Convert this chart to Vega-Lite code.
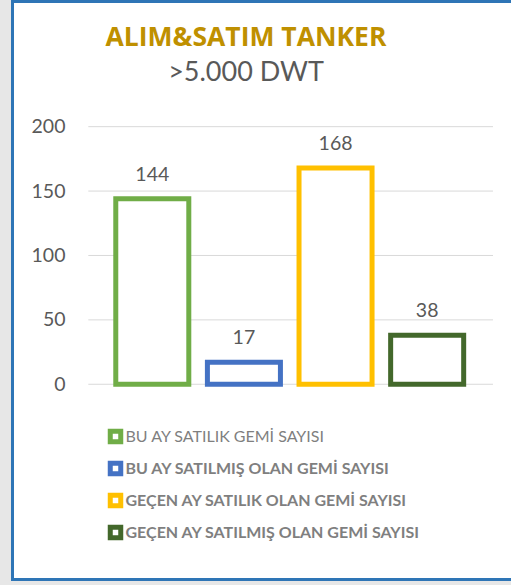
{
  "$schema": "https://vega.github.io/schema/vega-lite/v6.json",
  "autosize": {"type": "none"},
  "width": 500,
  "height": 578,
  "padding": {"left": 12.5, "top": 1.5, "right": -1.5, "bottom": 5.5},
  "background": "#e7e7e7",
  "config": {
    "view": {"stroke": "#2e75b6", "strokeWidth": 3, "fill": "white"},
    "font": "Lato"
  },
  "title": {
    "text": "ALIM&SATIM TANKER",
    "subtitle": ">5.000 DWT",
    "anchor": "middle",
    "frame": "group",
    "offset": -84.5,
    "dx": -16.5,
    "font": "Open Sans",
    "fontSize": 26.5,
    "fontWeight": "bold",
    "color": "#bf9000",
    "subtitleFont": "Lato",
    "subtitleFontSize": 27,
    "subtitleColor": "#595959",
    "subtitlePadding": 8.5
  },
  "datasets": {
    "ships": [
      {"cat": "BU AY SATILIK GEMİ SAYISI", "value": 144},
      {"cat": "BU AY SATILMIŞ OLAN GEMİ SAYISI", "value": 17},
      {"cat": "GEÇEN AY SATILIK OLAN GEMİ SAYISI", "value": 168},
      {"cat": "GEÇEN AY SATILMIŞ OLAN GEMİ SAYISI", "value": 38}
    ],
    "grid": [{"v": 0}, {"v": 50}, {"v": 100}, {"v": 150}, {"v": 200}]
  },
  "resolve": {"scale": {"x": "independent"}},
  "layer": [
    {
      "data": {"name": "grid"},
      "mark": {"type": "rule", "color": "#d9d9d9", "strokeWidth": 1},
      "encoding": {
        "y": {"field": "v", "type": "quantitative"},
        "x": {"datum": 0, "type": "quantitative", "axis": null, "scale": {"domain": [-0.1873, 1.0482], "nice": false, "zero": false}},
        "x2": {"datum": 1}
      }
    },
    {
      "layer": [
        {
          "mark": {"type": "bar", "fill": "white", "strokeWidth": 5},
          "encoding": {
            "stroke": {
              "field": "cat", "type": "nominal",
              "scale": {
                "domain": ["BU AY SATILIK GEMİ SAYISI", "BU AY SATILMIŞ OLAN GEMİ SAYISI", "GEÇEN AY SATILIK OLAN GEMİ SAYISI", "GEÇEN AY SATILMIŞ OLAN GEMİ SAYISI"],
                "range": ["#70ad47", "#4472c4", "#ffc000", "#43682b"]
              },
              "legend": {
                "orient": "none", "legendX": 95, "legendY": 427, "title": null, "direction": "vertical",
                "symbolType": "square", "symbolSize": 110, "symbolStrokeWidth": 5, "symbolFillColor": "white",
                "labelFont": "Lato", "labelFontSize": 16, "labelColor": "#7f7f7f",
                "labelFontWeight": {"expr": "datum.label === 'BU AY SATILIK GEMİ SAYISI' ? 'normal' : 'bold'"},
                "rowPadding": 0, "labelOffset": 2, "labelLimit": 400
              }
            }
          }
        },
        {
          "mark": {"type": "text", "dy": -18, "baseline": "alphabetic", "font": "Lato", "fontSize": 19.5, "color": "#595959"},
          "encoding": {
            "text": {"field": "value", "type": "quantitative"}
          }
        }
      ],
      "data": {"name": "ships"},
      "encoding": {
        "x": {
          "field": "cat", "type": "nominal", "sort": null, "axis": null,
          "scale": {
            "domain": ["BU AY SATILIK GEMİ SAYISI", "BU AY SATILMIŞ OLAN GEMİ SAYISI", "GEÇEN AY SATILIK OLAN GEMİ SAYISI", "GEÇEN AY SATILMIŞ OLAN GEMİ SAYISI"],
            "paddingInner": 0.203, "paddingOuter": 0.83, "align": 0.679
          }
        },
        "y": {
          "field": "value", "type": "quantitative",
          "scale": {"domain": [-151.6, 297.2], "nice": false, "zero": false},
          "axis": {
            "values": [0, 50, 100, 150, 200], "grid": false, "domain": false, "ticks": false,
            "title": null, "labelFont": "Lato", "labelFontSize": 19.5, "labelColor": "#595959",
            "labelPadding": 0, "offset": -52.5
          }
        }
      }
    }
  ]
}
